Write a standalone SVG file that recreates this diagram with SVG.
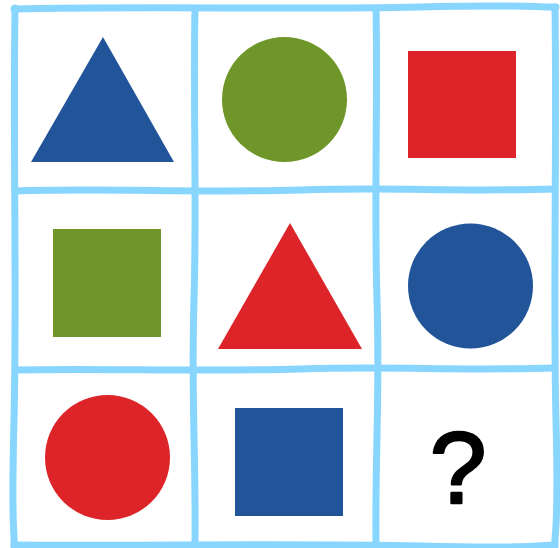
<svg xmlns="http://www.w3.org/2000/svg" width="560" height="548" viewBox="0 0 560 548">
<style>
.grid{fill:none;stroke:#88d6fd;stroke-width:7;stroke-linecap:round;stroke-linejoin:round}
.blue{fill:#22549a}
.green{fill:#6e9628}
.red{fill:#dc2429}
.q{font-family:"Liberation Sans",Arial,sans-serif;font-size:102px;fill:#000;stroke:#000;stroke-width:2.5;stroke-linejoin:round;text-anchor:middle}
</style>
<rect width="560" height="548" fill="#ffffff"/>
<g id="grid">
<path class="grid" d="M14,9 C150,6 300,10 420,7 S540,8 556,7"/>
<path class="grid" d="M15,8 C13,150 17,300 14,420 S15,530 14,546"/>
<path class="grid" d="M555,7 C557,150 553,300 556,420 S554,530 555,546"/>
<path class="grid" d="M14,545 C150,546 300,543 420,546 S540,545 555,545"/>
<path class="grid" d="M195,9 C193,100 197,200 194,300 S196,450 195,545"/>
<path class="grid" d="M376,8 C378,100 374,200 377,300 S375,450 376,545"/>
<path class="grid" d="M15,191 C100,188 200,193 300,190 S450,192 555,189"/>
<path class="grid" d="M15,370 C100,368 200,372 300,369 S450,371 555,368"/>
</g>
<g id="cell-1-1"><polygon class="blue" points="103,37 31,162 174,162"/></g>
<g id="cell-1-2"><circle class="green" cx="284.5" cy="99.5" r="62.5"/></g>
<g id="cell-1-3"><rect class="red" x="408" y="51" width="108" height="107"/></g>
<g id="cell-2-1"><rect class="green" x="53" y="229" width="108" height="108"/></g>
<g id="cell-2-2"><polygon class="red" points="290,223 218,349 362,349"/></g>
<g id="cell-2-3"><circle class="blue" cx="470.5" cy="286" r="62.5"/></g>
<g id="cell-3-1"><circle class="red" cx="107.5" cy="457.5" r="62.5"/></g>
<g id="cell-3-2"><rect class="blue" x="235" y="408" width="108" height="108"/></g>
<g id="cell-3-3"><text class="q" x="458" y="503">?</text></g>
</svg>
